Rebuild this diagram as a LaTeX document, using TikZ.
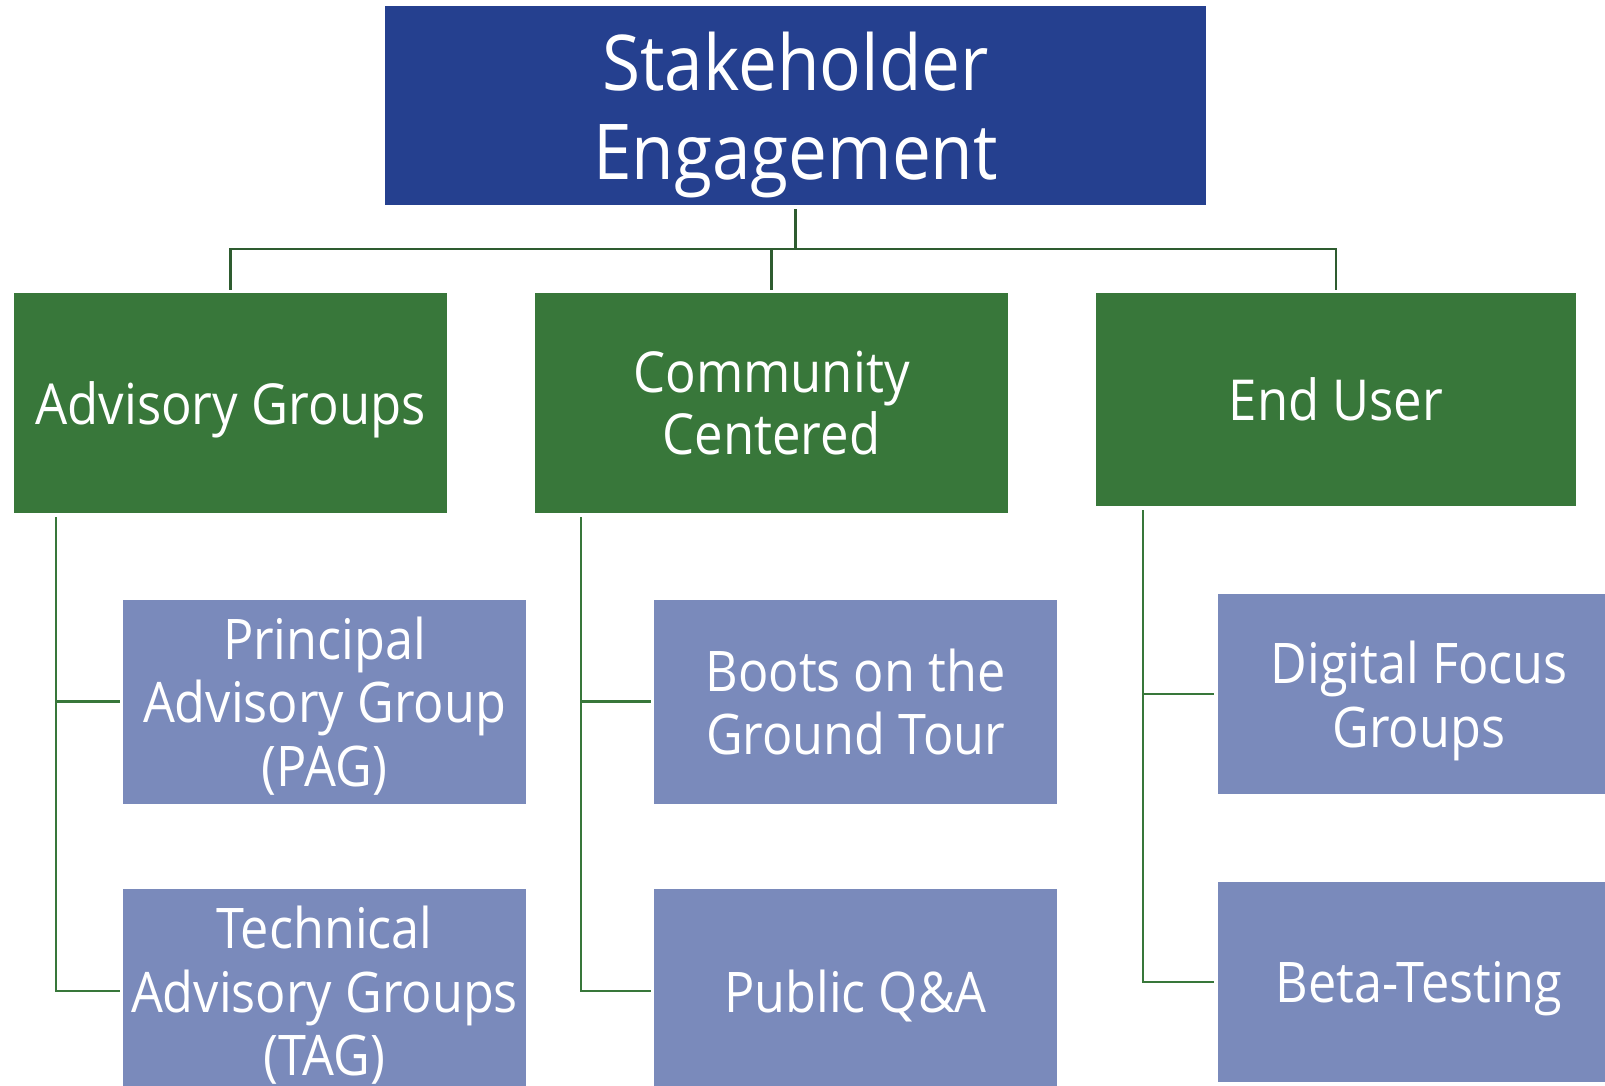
\documentclass[tikz,border=0pt]{standalone}
\usepackage{fontspec}
\setmainfont{Open Sans}[FakeStretch=0.9]
\usetikzlibrary{positioning}

\definecolor{topblue}{HTML}{25408F}
\definecolor{groupgreen}{HTML}{38773A}
\definecolor{itemblue}{HTML}{7A8ABB}
\definecolor{busgreen}{HTML}{2E5C30}

\begin{document}
\begin{tikzpicture}[x=1pt,y=1pt,node distance=289.5pt,
                    box/.style={rectangle,inner sep=0pt,align=center,text=white,text depth=0pt},
                    head/.style={box,fill=topblue,minimum width=821pt,minimum height=199pt,
                                 font=\fontsize{77}{89}\selectfont},
                    group/.style={box,fill=groupgreen,minimum height=220pt,
                                  font=\fontsize{56.5}{62}\selectfont},
                    item/.style={box,fill=itemblue,minimum width=403pt,minimum height=204pt,
                                 font=\fontsize{56}{63.5}\selectfont},
                    link/.style={draw=groupgreen,line width=2.2pt,shorten >=3pt},
                    bus/.style={link,draw=busgreen},
                    from/.style={shorten <=4pt}]

  \useasboundingbox (0,0) rectangle (1605,-1086);

  \node[head]                                  (top)   at (795.5,-105.5) {Stakeholder\\Engagement};
  \node[group,minimum width=433pt]             (adv)   at (230.5,-403)   {Advisory Groups};
  \node[group,minimum width=473pt]             (com)   at (771.5,-403)   {Community\\Centered};
  \node[group,minimum width=480pt,minimum height=213pt]
                                               (user)  at (1336,-399.5)  {End User};

  \node[item]                                  (pag)   at (324.5,-701.5) {Principal\\Advisory Group\\(PAG)};
  \node[item]                                  (tag)   [below of=pag]    {Technical\\Advisory Groups\\(TAG)};
  \node[item]                                  (boots) at (855.5,-701.5) {Boots on the\\Ground Tour};
  \node[item]                                  (qa)    [below of=boots]  {Public Q\&A};
  \node[item,minimum height=200pt]             (dfg)   at (1419,-694)    {Digital Focus\\Groups};
  \node[item,minimum height=200pt]             (beta)  at (1419,-982)    {Beta-Testing};

  \coordinate (bus) at (0,-249);

  % top level
  \draw[bus,from] (top.south) -- (top.south |- bus) -| (adv.north);
  \draw[bus]      (top.south |- bus) -| (user.north);
  \draw[bus]      (com.north |- bus) -- (com.north);

  % groups to items
  \draw[link,from] ([xshift=42pt]adv.south west) |- (tag.west);
  \draw[link]      ([xshift=42pt]adv.south west |- pag.west) -- (pag.west);
  \draw[link,from] ([xshift=46pt]com.south west) |- (qa.west);
  \draw[link]      ([xshift=46pt]com.south west |- boots.west) -- (boots.west);
  \draw[link,from] ([xshift=47.5pt]user.south west) |- (beta.west);
  \draw[link]      ([xshift=47.5pt]user.south west |- dfg.west) -- (dfg.west);
\end{tikzpicture}
\end{document}
